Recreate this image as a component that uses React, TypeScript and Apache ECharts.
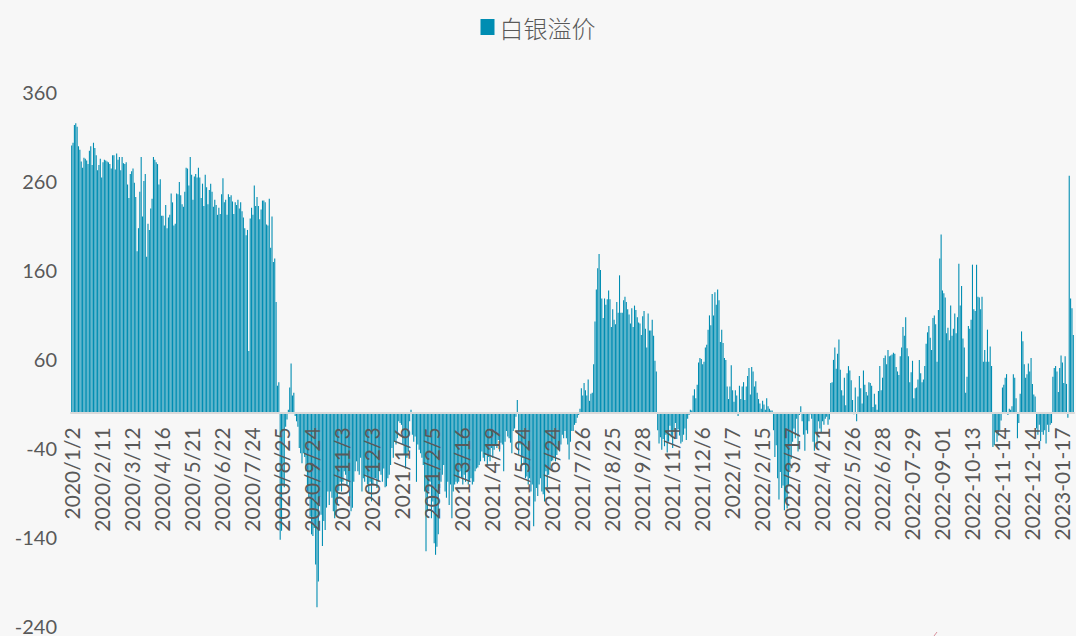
import React, { useEffect, useRef } from "react";
import * as echarts from "echarts";

// Tick labels shown on the category axis (every 22nd trading day)
const tickLabels: string[] = [
  "2020/1/2", "2020/2/11", "2020/3/12", "2020/4/16", "2020/5/21", "2020/6/22", "2020/7/24",
  "2020/8/25", "2020/9/24", "2020/11/3", "2020/12/3", "2021/1/6", "2021/2/5", "2021/3/16",
  "2021/4/19", "2021/5/24", "2021/6/24", "2021/7/26", "2021/8/25", "2021/9/28", "2021/11/4",
  "2021/12/6", "2022/1/7", "2022/2/15", "2022/3/17", "2022/4/21", "2022/5/26", "2022/6/28",
  "2022-07-29", "2022-09-01", "2022-10-13", "2022-11-14", "2022-12-14", "2023-01-17",
];
const LABEL_STEP = 22;

// Value axis range
const Y_MIN = -240;
const Y_MAX = 360;
const Y_STEP = 100;

// Silver premium, daily
const premium2020H1: number[] = [
  300, 303, 323, 325, 321, 299, 295, 282, 275, 286,
  285, 283, 279, 294, 299, 278, 303, 297, 289, 272,
  278, 285, 264, 281, 284, 283, 282, 281, 279, 274,
  289, 289, 273, 291, 284, 287, 272, 287, 280, 279,
  281, 256, 241, 268, 271, 274, 258, 242, 181, 207,
  248, 287, 220, 260, 268, 175, 212, 205, 229, 240,
  287, 284, 281, 279, 256, 262, 221, 221, 210, 233,
  207, 219, 222, 246, 236, 210,
];
const premium2020Mid: number[] = [
  212, 246, 245, 259, 244, 234, 231, 248, 275, 274,
  255, 287, 267, 239, 265, 268, 264, 275, 264, 241,
  257, 232, 267, 253, 234, 250, 257, 248, 231, 239,
  233, 222, 230, 223, 245, 263, 236, 239, 222, 245,
  242, 244, 237, 223, 236, 233, 239, 229, 236, 226,
  219, 207, 199, 205, 69, 218, 230, 222, 255, 232,
  242, 232, 217, 228, 238, 238, 236, 211, 210, 240,
  185, 220, 169, 173, 124, 30, 34,
];
const premium2020Aug: number[] = [-143, -133, -82, -84, -16, -8, 3, 28, 55, 19, 22];
const premium2020H2: number[] = [
  -4, -10, -16, -40, -46, -57, -46, -50, -66, -89,
  -96, -117, -137, -139, -130, -171, -219, -190, -95, -115,
  -150, -122, -132, -107, -89, -104, -89, -96, -111, -119,
  -115, -104, -88, -78, -89, -78, -66, -70, -81, -78,
  -96, -111, -107, -78, -66, -55, -66, -70, -51, -89,
  -74, -78, -70, -81, -90, -78, -100, -81, -74, -74,
  -85, -78, -66, -70, -78, -63, -84, -83, -74, -70,
  -59, -40, -51, -33, -36, -29, -10, -12, -14, -36,
  -47, -63, -51, -44, -10, 3,
];
const premium2021H1: number[] = [
  -25, -33, -27, -78, -36, -42, -46, -51, -59, -89,
  -156, -111, -89, -78, -119, -100, -147, -160, -151, -137,
  -85, -78, -70, -59, -89, -96, -78, -104, -81, -119,
  -89, -81, -78, -80, -78, -66, -74, -81, -70, -78,
  -66, -81, -78, -74, -81, -78, -66, -63, -62, -59,
  -55, -44, -51, -55, -48, -59, -50, -55, -40, -51,
  -42, -37, -40, -31, -44, -34, -36, -66, -33, -21,
  -27, -29, -34, -46, -21, -18, -5, 14, -48, -36,
  -64, -51, -59, -74, -72, -81, -74, -89, -81, -128,
  -100, -85, -94, -81, -74, -89, -92, -100, -66, -84,
  -70, -63, -55, -54, -51, -55, -48, -40, -44, -36,
  -25, -29, -21, -29, -36, -53, -33, -21, -21, -14,
  -12, -6, -3,
];
const premium2021Q3: number[] = [
  4, 27, 19, 33, 25, 19, 37, 13, 21, 22,
  54, 102, 138, 162, 178, 160, 128, 106, 128, 121,
  127, 137, 127, 96, 116, 104, 99, 124, 112, 154,
  112, 112, 126, 130, 124, 116, 110, 100, 117, 96,
  120, 115, 107, 101, 100, 87, 108, 114, 94, 73,
  111, 92, 92, 104, 86, 58, 46,
];
const premium2021Oct: number[] = [
  -20, -35, -28, -42, -30, -38, -25, -45, -33, -15,
  -28, -40, -22, -12, -30, -19, -26, -35, -33, -25,
  -18, -31, -7, -3, 3, 2,
];
const premium2021Q4: number[] = [
  19, 26, 16, 31, 56, 61, 60, 54, 57, 73,
  76, 93, 109, 98, 133, 109, 135, 121, 138, 126,
  79, 93, 78, 61, 59, 29, 15, 29, 53, 25,
  12, 25, 19, -4, 30, 15, 29, 34, 14, 29,
  41, 50, 20, 51, 46, 29, 35, 22, 15, 10,
  4, 13, 9, 3, 16, 7, 4, 2,
];
const premium2022Spring: number[] = [
  2, -20, -50, -37, -74, -98, -67, -85, -82, -110,
  -100, -108, -82, -67, -52, -33, -18, -29, -7, -44,
  -3, 7, -10, -25, -43, -20, -24, -10, -2, -7,
  -33, -43, -22, -40, -10, -18, -22, -10, -14, -7,
  -5, -14, -8,
];
const premium2022Summer: number[] = [
  33, 34, 59, 73, 49, 66, 82, 48, 25, 19,
  39, 8, 44, 52, 47, 36, 14, -2, 28, -10,
  18, 41, 27, 10, 47, 31, 23, 19, 34, 33,
  30, 6, 21, 9, 3, 24, 52, 25, 39, 61,
  64, 54, 70, 63, 64, 65, 67, 66, 51, 46,
  42, 63, 73, 96, 86, 107, 72, 63, 34, 45,
  58, 16, 27, 28, 37, 59, 44, 34, 37, 52,
  77, 90, 97, 84, 70, 106, 109, 99, 57, 115,
];
const premium2022Autumn: number[] = [
  173, 200, 137, 134, 129, 89, 95, 81, 120, 86,
  94, 111, 89, 107, 167, 120, 142, 83, 73, 22,
  40, 97, 94, 104, 166, 116, 114, 166, 130, 129,
  116, 130, 57, 70, 57, 93, 57, 74, 52,
];
const premium2022Nov: number[] = [-39, -37, -22, -33, -26, -20, -9];
const premium2022Dec: number[] = [
  28, 31, 39, 43, -3, 4, 3, 7, 43, 39,
  16, -29, -12, 21, 91, 80, 54, 39, 43, 55,
  46, 61, 32, 20, 18,
];
const premium2022DecLate: number[] = [-18, -25, -14, -32, -22, -25, -20, -35, -14, -22, -14, -12];
const premium2023Jan: number[] = [40, 50, 52, 46, 23, 50, 64, 56, 33, 63, 32];
const premium2023Feb: number[] = [-6, 266, 128, 117, 87];

const seriesName = "白银溢价";

const premium: number[] = [
  ...premium2020H1, ...premium2020Mid, ...premium2020Aug, ...premium2020H2,
  ...premium2021H1, ...premium2021Q3, ...premium2021Oct, ...premium2021Q4,
  ...premium2022Spring, ...premium2022Summer, ...premium2022Autumn, ...premium2022Nov,
  ...premium2022Dec, ...premium2022DecLate, ...premium2023Jan, ...premium2023Feb,
];

const categories: string[] = premium.map((_, i) =>
  i % LABEL_STEP === 0 && tickLabels[i / LABEL_STEP] ? tickLabels[i / LABEL_STEP] : "#" + i
);

const W = 1076;
const H = 636;
const GRID_TOP = 92;
const GRID_BOTTOM = 10;

export default function App() {
  const ref = useRef<HTMLDivElement>(null);
  useEffect(() => {
    document.body.style.margin = "0";
    if (!ref.current) return;
    const chart = echarts.init(ref.current, undefined, { renderer: "svg" });
    // distance from the grid bottom up to the zero line, so the category axis sits on zero
    const plotH = H - GRID_TOP - GRID_BOTTOM;
    const zeroOffset = (plotH * (0 - Y_MIN)) / (Y_MAX - Y_MIN);
    chart.setOption({
      animation: false,
      backgroundColor: "#f7f7f7",
      textStyle: { fontFamily: "Lato, 'Noto Sans CJK SC', sans-serif" },
      legend: {
        top: 10,
        left: "center",
        icon: "rect",
        itemWidth: 14,
        itemHeight: 16,
        itemGap: 10,
        textStyle: {
          fontSize: 24,
          color: "#595959",
          fontFamily: "'Noto Sans CJK SC', sans-serif",
          fontWeight: 300,
        },
        data: [seriesName],
      },
      grid: {
        left: 71,
        right: 2,
        top: GRID_TOP,
        bottom: GRID_BOTTOM,
        containLabel: false,
        outerBoundsMode: "none",
      },
      xAxis: {
        type: "category",
        data: categories,
        position: "bottom",
        offset: -zeroOffset,
        axisLine: { onZero: false, lineStyle: { color: "#d9d9d9", width: 2 } },
        axisTick: { show: false },
        axisLabel: {
          interval: LABEL_STEP - 1,
          rotate: 90,
          fontSize: 21,
          color: "#595959",
          margin: 15,
          formatter: (v: string) => (v.charAt(0) === "#" ? "" : v),
        },
        splitLine: { show: false },
        z: 3,
      },
      yAxis: {
        type: "value",
        min: Y_MIN,
        max: Y_MAX,
        interval: Y_STEP,
        splitLine: { show: false },
        axisLine: { show: false },
        axisTick: { show: false },
        axisLabel: { fontSize: 20, lineHeight: 16, color: "#595959", margin: 14 },
      },
      series: [
        {
          type: "bar",
          name: seriesName,
          data: premium,
          itemStyle: { color: "#008db2" },
          barCategoryGap: "20%",
        },
      ],
      graphic: [
        {
          type: "line",
          shape: { x1: 934, y1: 636, x2: 937, y2: 632 },
          style: { stroke: "#d8909c", lineWidth: 1 },
        },
      ],
    });
    return () => chart.dispose();
  }, []);
  return (
    <div
      ref={ref}
      style={{ position: "fixed", left: 0, top: 0, width: W, height: H }}
    />
  );
}
